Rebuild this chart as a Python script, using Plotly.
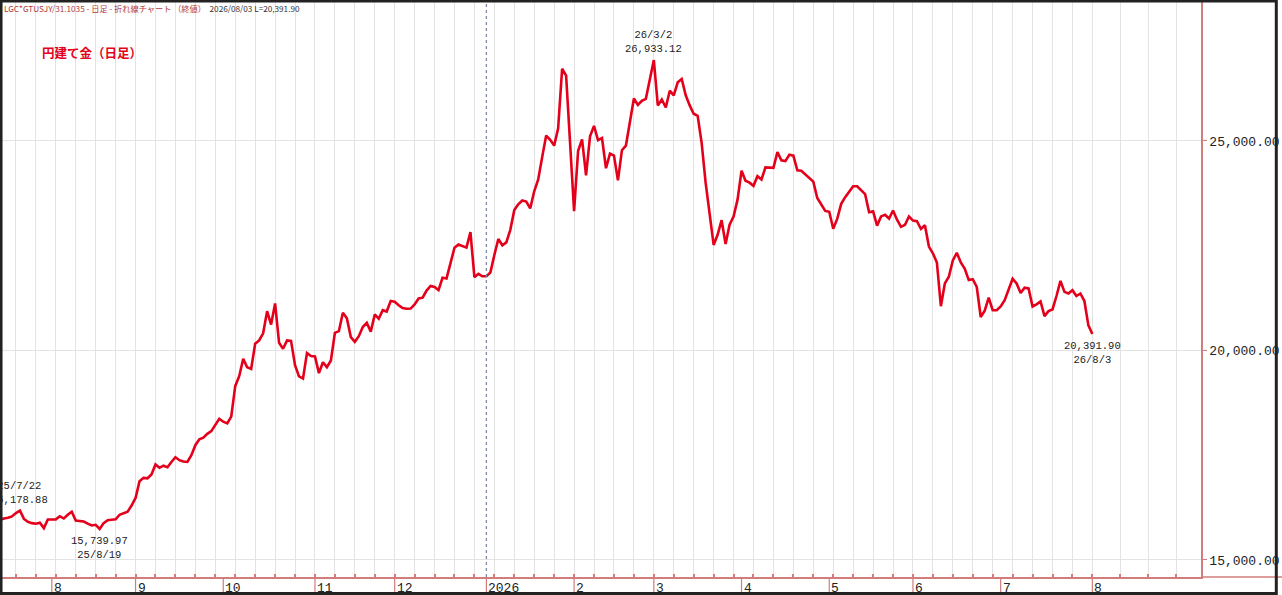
import pandas as pd
import plotly.graph_objects as go

# 円建て金 日足終値 (LGC*GTUSJY/31.1035)  2025/7/14 - 2026/8/3
# one row = one week (Mon..Fri)
first_day = "2025-07-14"
last_day = "2026-08-03"
close_jpy = [
    15930, 15966, 15990, 16010, 16040,
    16120, 16178.88, 15980, 15910, 15880,
    15865, 15890, 15760, 15966, 15966,
    15970, 16045, 15990, 16080, 16150,
    15942, 15935, 15918, 15870, 15823,
    15840, 15739.97, 15880, 15950, 15960,
    15970, 16080, 16120, 16150, 16300,
    16480, 16880, 16960, 16950, 17040,
    17279, 17200, 17250, 17215, 17340,
    17453, 17382, 17350, 17340, 17500,
    17740, 17880, 17920, 18010, 18074,
    18230, 18370, 18300, 18260, 18420,
    19148, 19387, 19800, 19600, 19560,
    20160, 20240, 20410, 20938, 20620,
    21122, 20183, 20040, 20240, 20230,
    19650, 19380, 19330, 19940, 19870,
    19860, 19460, 19720, 19602, 19760,
    20422, 20461, 20900, 20770, 20320,
    20207, 20342, 20560, 20660, 20450,
    20860, 20757, 20962, 20930, 21180,
    21165, 21080, 21015, 20995, 21000,
    21100, 21240, 21260, 21430, 21540,
    21515, 21440, 21735, 21720, 22080,
    22451, 22530, 22490, 22455, 22824,
    21750, 21830, 21770, 21770, 21860,
    22280, 22660, 22510, 22580, 22880,
    23350, 23490, 23580, 23555, 23390,
    23800, 24082, 24620, 25130, 25030,
    24890, 25300, 26724, 26560, 24900,
    23325, 24758, 25040, 24180, 25110,
    25360, 25020, 25070, 24350, 24700,
    24650, 24060, 24780, 24890, 25460,
    26015, 25860, 25960, 26005, 26450,
    26933.12, 25848, 25990, 25800, 26200,
    26090, 26400, 26480, 26090, 25850,
    25650, 25600, 24950, 24000, 23250,
    22520, 22760, 23110, 22540, 23000,
    23195, 23600, 24290, 24050, 24005,
    23930, 24160, 24082, 24370, 24360,
    24360, 24733, 24540, 24519, 24670,
    24650, 24300, 24290, 24200, 24130,
    24030, 23640, 23470, 23330, 23310,
    22905, 23140, 23500, 23660, 23780,
    23920, 23920, 23820, 23730, 23300,
    23320, 22980, 23200, 23240, 23150,
    23340, 23120, 22950, 23000, 23200,
    23100, 23086, 22900, 22990, 22480,
    22320, 22100, 21058, 21600, 21760,
    22150, 22330, 22100, 21950, 21680,
    21700, 21520, 20800, 20950, 21260,
    20960, 20960, 21050, 21200, 21480,
    21710, 21600, 21370, 21500, 21480,
    21050, 21100, 21170, 20820, 20940,
    20979, 21300, 21660, 21400, 21360,
    21440, 21300, 21360, 21180, 20600,
    20391.90,
]

month_starts = ["2025-08-01", "2025-09-01", "2025-10-01", "2025-11-03", "2025-12-01",
                "2026-01-01", "2026-02-02", "2026-03-02", "2026-04-01", "2026-05-01",
                "2026-06-01", "2026-07-01", "2026-08-03"]
month_labels = ["8", "9", "10", "11", "12", "2026", "2", "3", "4", "5", "6", "7", "8"]

y_ticks = [15000, 20000, 25000]

# labelled points: date, above(True)/below(False)
marked_days = [("2025-07-22", True), ("2025-08-19", False),
               ("2026-03-02", True), ("2026-08-03", False)]

RED = "#e4001b"
AXIS = "#d27c7c"
GRID = "#e3e3e3"
MONO = "Liberation Mono, DejaVu Sans Mono, monospace"

days = pd.bdate_range(first_day, last_day)
s = pd.Series(close_jpy, index=days)

fig = go.Figure()
fig.add_trace(go.Scatter(x=days, y=s.values, mode="lines",
                         line=dict(color=RED, width=2.6), hoverinfo="x+y"))

for d, above in marked_days:
    dt = pd.Timestamp(d)
    v = s[dt]
    date_txt = f"{dt.year % 100}/{dt.month}/{dt.day}"
    val_txt = f"{v:,.2f}"
    if above:
        txt, anchor, shift = f"{date_txt}<br>{val_txt}", "bottom", 3
    else:
        txt, anchor, shift = f"{val_txt}<br>{date_txt}", "top", -4
    fig.add_annotation(x=dt, y=v, text=txt, showarrow=False, yanchor=anchor,
                       yshift=shift, font=dict(family=MONO, size=10.5, color="#222"))

# month ticks under the axis
for d, lab in zip(month_starts, month_labels):
    fig.add_shape(type="line", xref="x", yref="paper", x0=d, x1=d, y0=0, y1=-0.04,
                  line=dict(color=AXIS, width=1.2))
    fig.add_annotation(x=d, xref="x", y=-0.004, yref="paper", text=lab, showarrow=False,
                       xanchor="left", yanchor="top",
                       font=dict(family=MONO, size=13, color="#222"))

# year boundary
fig.add_shape(type="line", xref="x", yref="paper", x0="2026-01-01", x1="2026-01-01",
              y0=0, y1=1, line=dict(color="#7f86a8", width=1.3, dash="dot"))

# x axis line continues under the price scale
fig.add_shape(type="line", xref="paper", yref="paper", x0=1, x1=1.07, y0=0, y1=0,
              line=dict(color=AXIS, width=1.5))
# outer frame
fig.add_shape(type="rect", xref="paper", yref="paper", x0=-0.0008, x1=1.0628,
              y0=-0.0287, y1=1.0017, line=dict(color="#222", width=3))

fig.add_annotation(xref="paper", yref="paper", x=0.0, y=0.99, xanchor="left",
                   yanchor="middle", showarrow=False,
                   text="<span style='color:#b23a3a'>LGC*GTUSJY/31.1035 - 日足 - 折れ線チャート （終値）</span>"
                        "  2026/08/03 L=20,391.90",
                   font=dict(family="Noto Sans CJK JP", size=8.2, color="#333"))
fig.add_annotation(xref="paper", yref="paper", x=0.0316, y=0.913, xanchor="left",
                   yanchor="middle", showarrow=False, text="<b>円建て金（日足）</b>",
                   font=dict(family="Noto Sans CJK JP", size=12.5, color=RED))

weekend_breaks = pd.date_range("2025-07-12", "2026-08-01", freq="W-SAT")

fig.update_layout(
    width=1282, height=595,
    margin=dict(l=2, r=77, t=2, b=18),
    paper_bgcolor="#FFFFFF", plot_bgcolor="#FFFFFF",
    showlegend=False,
    xaxis=dict(
        range=["2025-07-15 12:00", "2026-08-30 06:00"],
        rangebreaks=[dict(values=[d.strftime("%Y-%m-%d") for d in weekend_breaks],
                          dvalue=2 * 86400000)],
        tick0="2025-07-14", dtick=7 * 86400000,
        showgrid=True, gridcolor=GRID, gridwidth=1,
        ticks="inside", ticklen=3, tickwidth=1.5, tickcolor=AXIS,
        showticklabels=False,
        showline=True, linecolor=AXIS, linewidth=1.5,
        zeroline=False,
    ),
    yaxis=dict(
        side="right", range=[14594, 28317],
        tickvals=y_ticks, ticktext=[f"{v:,.2f}" for v in y_ticks],
        showgrid=True, gridcolor=GRID, gridwidth=1,
        ticks="outside", ticklen=4, tickcolor=AXIS,
        tickfont=dict(family=MONO, size=13, color="#222"),
        showline=True, linecolor=AXIS, linewidth=1.5,
        zeroline=False,
    ),
)

fig.write_html("out.html", config={"displayModeBar": False},
               post_script="document.body.style.margin='0';document.body.style.overflow='hidden';")
